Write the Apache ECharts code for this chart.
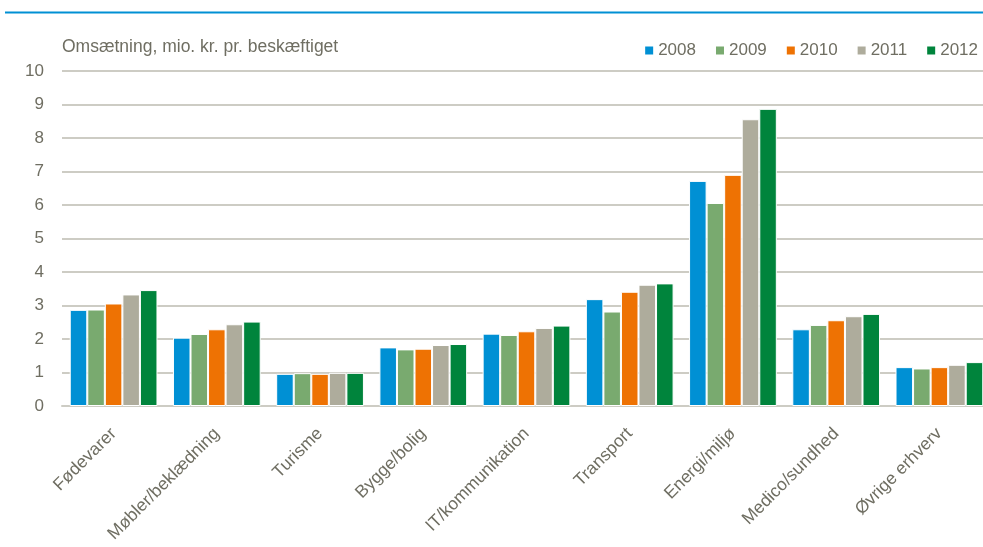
<!DOCTYPE html>
<html>
<head>
<meta charset="utf-8">
<script src="https://cdn.jsdelivr.net/npm/echarts@6/dist/echarts.min.js"></script>
<style>
  html, body { margin: 0; padding: 0; background: #fff; }
  #chart { width: 983px; height: 547px; }
</style>
</head>
<body>
<div id="chart"></div>
<script>
// Data
const categories = ['Fødevarer', 'Møbler/beklædning', 'Turisme', 'Bygge/bolig', 'IT/kommunikation',
  'Transport', 'Energi/miljø', 'Medico/sundhed', 'Øvrige erhverv']
const years = ['2008', '2009', '2010', '2011', '2012']
const values2008 = [2.87, 2.04, 0.96, 1.75, 2.16, 3.19, 6.72, 2.29, 1.16]
const values2009 = [2.88, 2.15, 0.98, 1.69, 2.12, 2.82, 6.06, 2.42, 1.12]
const values2010 = [3.06, 2.29, 0.96, 1.71, 2.23, 3.41, 6.90, 2.56, 1.16]
const values2011 = [3.33, 2.44, 0.99, 1.82, 2.33, 3.62, 8.56, 2.68, 1.23]
const values2012 = [3.46, 2.52, 0.99, 1.85, 2.40, 3.66, 8.87, 2.75, 1.31]
const unitLabel = 'Omsætning, mio. kr. pr. beskæftiget'

const seriesValues = [values2008, values2009, values2010, values2011, values2012]
const colors = ['#0090D4', '#79AA6F', '#EE7203', '#AEAC9C', '#00843C']

const textColor = '#6F6E62'
const gridColor = '#CDCCC4'
const font = 'Liberation Sans, Arial, sans-serif'

const chart = echarts.init(document.getElementById('chart'))

const option = {
  backgroundColor: '#fff',
  animation: false,
  textStyle: { fontFamily: font },
  legend: {
    data: years,
    right: 0,
    top: 37,
    icon: 'rect',
    itemWidth: 10,
    itemHeight: 10,
    itemGap: 18,
    textStyle: { color: textColor, fontSize: 17, fontFamily: font, padding: [0, 0, 0, -1] }
  },
  grid: {
    left: 62,
    top: 71,
    width: 929,
    bottom: 141,
    containLabel: false,
    outerBoundsMode: 'none'
  },
  xAxis: {
    type: 'category',
    data: categories,
    axisLine: { lineStyle: { color: gridColor, width: 2 } },
    axisTick: { show: false },
    axisLabel: {
      interval: 0,
      rotate: 45,
      margin: 25,
      color: textColor,
      fontSize: 17.5,
      fontFamily: font
    }
  },
  yAxis: {
    type: 'value',
    min: 0,
    max: 10,
    interval: 1,
    axisLine: { show: false },
    axisTick: { show: false },
    axisLabel: { color: textColor, fontSize: 17, fontFamily: font, margin: 18 },
    splitLine: { lineStyle: { color: gridColor, width: 2 } }
  },
  series: years.map((y, i) => ({
    name: y,
    type: 'bar',
    data: seriesValues[i],
    barGap: '0%',
    barCategoryGap: '15%',
    itemStyle: { color: colors[i], borderColor: '#fff', borderWidth: 1 }
  })),
  graphic: [
    {
      type: 'line',
      shape: { x1: 5, y1: 12.5, x2: 983, y2: 12.5 },
      style: { stroke: '#0090D4', lineWidth: 2 }
    },
    {
      type: 'text',
      left: 62,
      top: 38,
      style: { text: unitLabel, fill: textColor, fontSize: 17.5, fontFamily: font }
    }
  ]
}

chart.setOption(option)
</script>
</body>
</html>
